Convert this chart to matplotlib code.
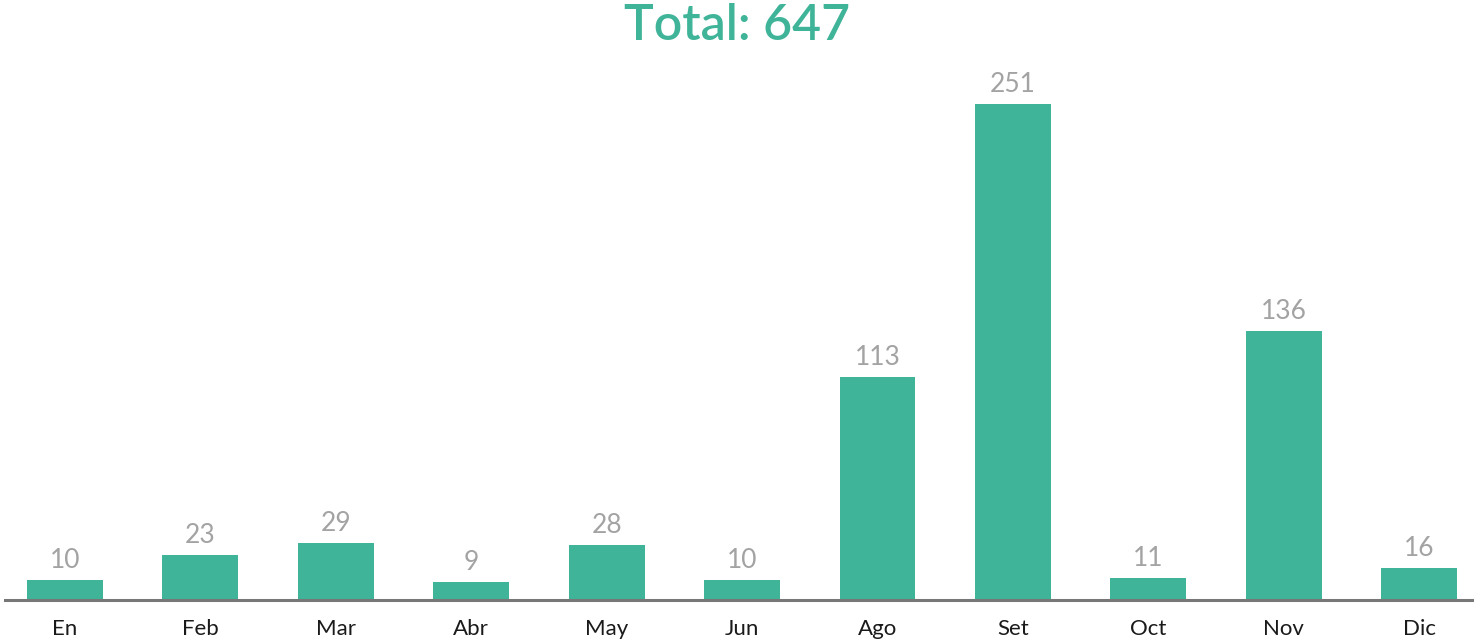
import numpy as np
import matplotlib.pyplot as plt

plt.rcParams['font.family'] = ['Lato', 'DejaVu Sans']

months = ['En', 'Feb', 'Mar', 'Abr', 'May', 'Jun', 'Ago', 'Set', 'Oct', 'Nov', 'Dic']
values = [10, 23, 29, 9, 28, 10, 113, 251, 11, 136, 16]
total_label = 'Total: 647'

green = '#3fb498'

fig = plt.figure(figsize=(14.74, 6.43), dpi=100)
ax = fig.add_axes([5 / 1474, 1 - 600 / 643, 1467 / 1474, 496 / 643])

x = np.arange(len(months))
ax.bar(x, values, width=0.56, color=green, zorder=2)
for xi, v in zip(x, values):
    ax.annotate(str(v), (xi, v), xytext=(0, 5), textcoords='offset points',
                ha='center', va='bottom', fontsize=19, color='#a3a3a3')

ax.set_xlim(-0.443, 10.39)
ax.set_ylim(0, 251)
ax.set_xticks(x)
ax.set_xticklabels(months, fontsize=16, color='#1a1a1a')
ax.tick_params(axis='x', length=0, pad=14)
ax.set_yticks([])
for s in ['top', 'right', 'left']:
    ax.spines[s].set_visible(False)
ax.spines['bottom'].set_color('#777777')
ax.spines['bottom'].set_linewidth(2.2)
ax.spines['bottom'].set_zorder(3)

fig.text(0.5, 1 - 25 / 643, total_label, ha='center', va='center',
         fontsize=36, color=green, fontweight='semibold')

plt.savefig('out.png', dpi=100)
